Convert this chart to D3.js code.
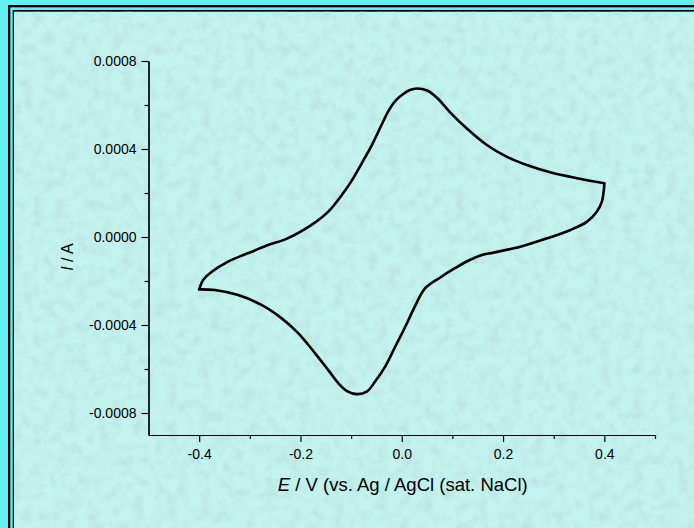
<!DOCTYPE html>
<html><head><meta charset="utf-8">
<script src="https://cdn.jsdelivr.net/npm/d3@7"></script>
<style>body{margin:0;background:#62F0F4;} svg{display:block}</style>
</head><body><svg id="c" width="694" height="528"></svg>
<script>
// Anodic (forward) scan: potential (V) and current (A)
const forwardE = [-0.400,-0.392,-0.375,-0.343,-0.313,-0.296,-0.264,-0.231,-0.178,-0.145,-0.119,-0.099,-0.079,-0.059,-0.040,-0.027,-0.013,0.003,0.016,0.030,0.050,0.070,0.095,0.128,0.168,0.207,0.247,0.293,0.346,0.400];
const forwardI = [-0.000238,-0.000195,-0.000158,-0.000112,-0.000082,-0.000067,-0.000036,-0.000012,0.000055,0.000115,0.000189,0.000255,0.000335,0.000418,0.000509,0.000570,0.000618,0.000650,0.000668,0.000675,0.000666,0.000632,0.000568,0.000494,0.000418,0.000365,0.000327,0.000294,0.000267,0.000244];
// Cathodic (reverse) scan
const reverseE = [0.400,0.399,0.395,0.385,0.366,0.333,0.287,0.234,0.181,0.158,0.132,0.105,0.076,0.046,0.026,0.007,-0.013,-0.033,-0.053,-0.069,-0.089,-0.109,-0.125,-0.145,-0.171,-0.204,-0.237,-0.277,-0.323,-0.369,-0.400];
const reverseI = [0.000244,0.000214,0.000160,0.000115,0.000070,0.000032,-0.000006,-0.000044,-0.000071,-0.000082,-0.000107,-0.000142,-0.000184,-0.000234,-0.000315,-0.000408,-0.000499,-0.000590,-0.000658,-0.000703,-0.000714,-0.000699,-0.000665,-0.000605,-0.000529,-0.000438,-0.000370,-0.000309,-0.000264,-0.000241,-0.000238];

const xTicks = [-0.4,-0.2,0.0,0.2,0.4];
const xMinorTicks = [-0.3,-0.1,0.1,0.3,0.5];
const yTicks = [0.0008,0.0004,0.0000,-0.0004,-0.0008];
const yMinorTicks = [0.0006,0.0002,-0.0002,-0.0006];
const xDomain = [-0.5,0.5];
const yDomain = [-0.0009,0.0008];

const svg = d3.select("#c");
const W = 694, H = 528;

// frame
const defs = svg.append("defs");
const f = defs.append("filter").attr("id","noise").attr("x",0).attr("y",0).attr("width","100%").attr("height","100%");
f.append("feTurbulence").attr("type","fractalNoise").attr("baseFrequency","0.09").attr("numOctaves",3).attr("seed",4);
f.append("feColorMatrix").attr("type","matrix")
 .attr("values","0 0 0 0 0.45  0 0 0 0 0.62  0 0 0 0 0.62  0.9 0 0 0 -0.36");

svg.append("rect").attr("width",W).attr("height",H).attr("fill","#62F0F4");
svg.append("rect").attr("x",8).attr("y",5).attr("width",W).attr("height",H).attr("fill","#000");
svg.append("rect").attr("x",10.3).attr("y",7.3).attr("width",W).attr("height",H).attr("fill","#62F0F4");
svg.append("rect").attr("x",12.7).attr("y",10).attr("width",W).attr("height",H).attr("fill","#000");
svg.append("rect").attr("x",14).attr("y",11.7).attr("width",W).attr("height",H).attr("fill","#C3F3EF");
svg.append("rect").attr("x",14).attr("y",11.7).attr("width",W).attr("height",H).attr("filter","url(#noise)");

const x = d3.scaleLinear().domain(xDomain).range([148.5,655]);
const y = d3.scaleLinear().domain(yDomain).range([435,61]);

const loc = d3.formatLocale({decimal:".",thousands:",",grouping:[3],currency:["",""],minus:"-"});
const fx = loc.format(".1f"), fy = loc.format(".4f");
const font = "'Liberation Sans', Arial, sans-serif";

// axes
const gx = svg.append("g").attr("transform",`translate(0,${y(yDomain[0])})`)
  .call(d3.axisBottom(x).tickValues(xTicks).tickFormat(fx).tickSize(7).tickSizeOuter(0).tickPadding(7));
const gxm = svg.append("g").attr("transform",`translate(0,${y(yDomain[0])})`)
  .call(d3.axisBottom(x).tickValues(xMinorTicks).tickFormat("").tickSize(4).tickSizeOuter(0));
const gy = svg.append("g").attr("transform",`translate(${x(xDomain[0])},0)`)
  .call(d3.axisLeft(y).tickValues(yTicks).tickFormat(fy).tickSize(7).tickSizeOuter(0).tickPadding(5));
const gym = svg.append("g").attr("transform",`translate(${x(xDomain[0])},0)`)
  .call(d3.axisLeft(y).tickValues(yMinorTicks).tickFormat("").tickSize(4).tickSizeOuter(0));
[gx,gxm,gy,gym].forEach(g=>{
  g.selectAll("path,line").attr("stroke","#000").attr("stroke-width",1.2);
  g.selectAll("text").attr("fill","#000").style("font-family",font).style("font-size","14px");
});

// curve
const line = d3.line().x(d=>x(d[0])).y(d=>y(d[1])).curve(d3.curveCatmullRom.alpha(0.5));
const fwd = forwardE.map((e,i)=>[e,forwardI[i]]);
const rev = reverseE.map((e,i)=>[e,reverseI[i]]);
[fwd,rev].forEach(d=>{
  svg.append("path").datum(d).attr("d",line).attr("fill","none")
    .attr("stroke","#000").attr("stroke-width",2.6).attr("stroke-linejoin","round").attr("stroke-linecap","round");
});

// axis titles
const xt = svg.append("text").attr("x",(x(xDomain[0])+x(xDomain[1]))/2+1).attr("y",491)
  .attr("text-anchor","middle").style("font-family",font).style("font-size","18.5px").attr("fill","#000");
xt.append("tspan").style("font-style","italic").text("E");
xt.append("tspan").text(" / V (vs. Ag / AgCl (sat. NaCl)");

const yt = svg.append("text").attr("transform","translate(73,257) rotate(-90)")
  .attr("text-anchor","middle").style("font-family",font).style("font-size","16px").attr("fill","#000");
yt.append("tspan").style("font-style","italic").text("I");
yt.append("tspan").text(" / A");
</script>
</body></html>
